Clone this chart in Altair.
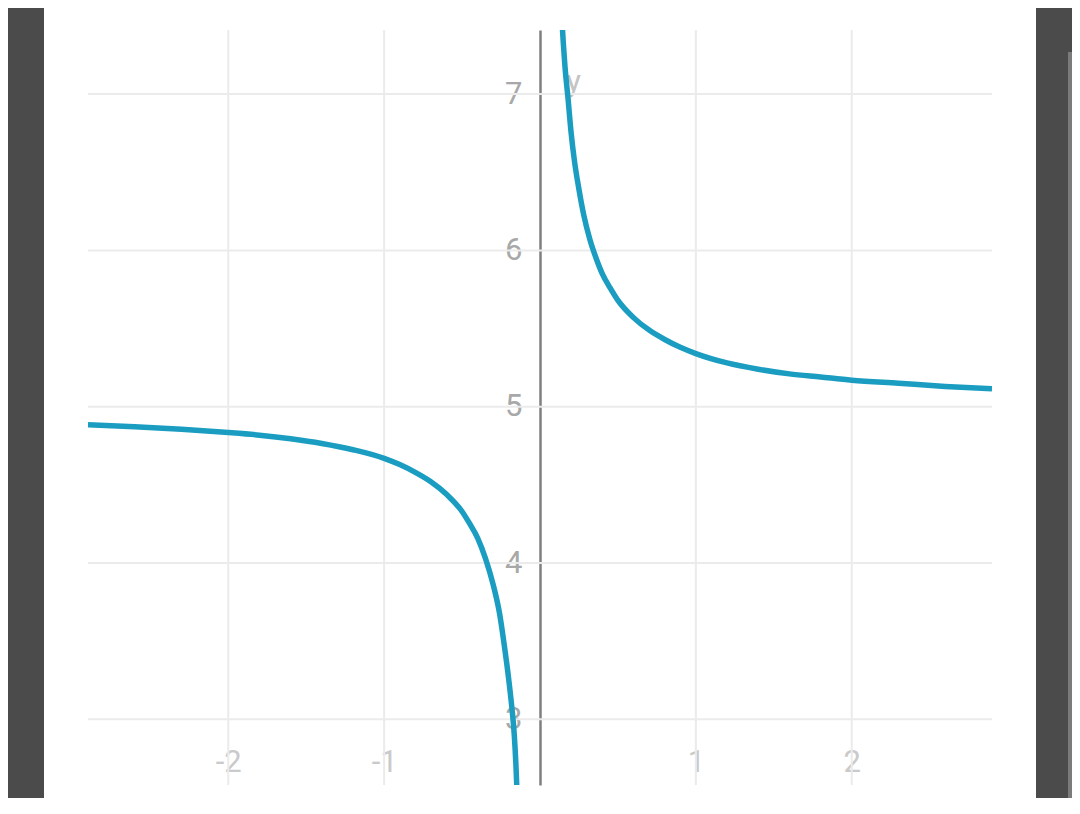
import altair as alt
import pandas as pd

# Curve values
right_x = [0.142, 0.15, 0.16, 0.18, 0.2, 0.22, 0.25, 0.28, 0.32, 0.36, 0.4, 0.45, 0.5,
           0.6, 0.7, 0.8, 0.9, 1.0, 1.2, 1.4, 1.6, 1.8, 2.0, 2.3, 2.6, 2.9]
right_y = [7.45, 7.32, 7.18, 6.97, 6.75, 6.58, 6.39, 6.23, 6.07, 5.95, 5.85, 5.76, 5.68,
           5.57, 5.49, 5.43, 5.38, 5.34, 5.28, 5.24, 5.21, 5.19, 5.17, 5.15, 5.13, 5.115]
left_x = [-2.9, -2.6, -2.3, -2.0, -1.8, -1.6, -1.4, -1.2, -1.0, -0.9, -0.8, -0.7, -0.6,
          -0.5, -0.45, -0.4, -0.35, -0.3, -0.26, -0.23, -0.2, -0.18, -0.165, -0.155, -0.148]
left_y = [4.885, 4.872, 4.856, 4.835, 4.818, 4.795, 4.765, 4.725, 4.67, 4.63, 4.58, 4.52, 4.44,
          4.33, 4.25, 4.16, 4.03, 3.86, 3.68, 3.48, 3.25, 3.07, 2.9, 2.72, 2.55]

x_ticks = [-2, -1, 1, 2]
y_ticks = [3, 4, 5, 6, 7]
x_domain = [-2.9, 2.9]
y_domain = [2.58, 7.41]

rows = []
for i, (x, y) in enumerate(zip(left_x, left_y)):
    rows.append({"x": x, "y": y, "branch": "left", "i": i})
for i, (x, y) in enumerate(zip(right_x, right_y)):
    rows.append({"x": x, "y": y, "branch": "right", "i": i})
df = pd.DataFrame(rows)

xs = alt.Scale(domain=x_domain, nice=False, zero=False)
ys = alt.Scale(domain=y_domain, nice=False, zero=False)

FONT = "Roboto"

x_axis = alt.Axis(orient="bottom", offset=-33, domain=False, ticks=False, grid=False,
                  values=x_ticks, labelFontSize=31, labelColor="#cacaca", labelFont=FONT,
                  labelPadding=10, labelBaseline="middle", labelOverlap=False,
                  labelExpr="datum.value < 0 ? '-' + abs(datum.value) : '' + datum.value",
                  title="")
y_axis = alt.Axis(orient="left", offset=-452, domain=True, domainColor="#7f7f7f",
                  domainWidth=2.5, ticks=False, grid=False, values=y_ticks,
                  labelFontSize=31, labelColor="#a8a8a8", labelFont=FONT,
                  labelPadding=18, labelOverlap=False,
                  title="y", titleAngle=0, titleX=33, titleY=52, titleAlign="center",
                  titleBaseline="middle", titleFontSize=31, titleFontWeight="normal",
                  titleColor="#c4c4c4", titleFont=FONT)

vgrid = alt.Chart(pd.DataFrame({"x": x_ticks})).mark_rule(
    color="#ebebeb", strokeWidth=2).encode(
    x=alt.X("x:Q", scale=xs, axis=x_axis))
hgrid = alt.Chart(pd.DataFrame({"y": y_ticks})).mark_rule(
    color="#ebebeb", strokeWidth=2).encode(
    y=alt.Y("y:Q", scale=ys, axis=y_axis))

curve = alt.Chart(df).mark_line(color="#1b9dc2", strokeWidth=5.5, clip=True,
                                interpolate="monotone").encode(
    x=alt.X("x:Q", scale=xs, axis=x_axis),
    y=alt.Y("y:Q", scale=ys, axis=y_axis),
    detail="branch:N",
    order="i:Q",
)

one = pd.DataFrame({"a": [0]})
left_strip = alt.Chart(one).mark_rect(color="#4b4b4b").encode(
    x=alt.value(-88), x2=alt.value(-44), y=alt.value(-22), y2=alt.value(768))
right_strip = alt.Chart(one).mark_rect(color="#4b4b4b").encode(
    x=alt.value(948), x2=alt.value(984), y=alt.value(-22), y2=alt.value(768))
right_light = alt.Chart(one).mark_rect(color="#7b7b7b").encode(
    x=alt.value(980), x2=alt.value(984), y=alt.value(22), y2=alt.value(768))

chart = alt.layer(vgrid, hgrid, curve, left_strip, right_strip, right_light).properties(
    width=904, height=755,
    padding={"left": 80, "top": 22, "right": 80, "bottom": 13},
    autosize=alt.AutoSizeParams(type="none"),
    background="white",
).configure_view(stroke=None)

chart.save("out.html", embed_options={"renderer": "svg", "actions": False})
